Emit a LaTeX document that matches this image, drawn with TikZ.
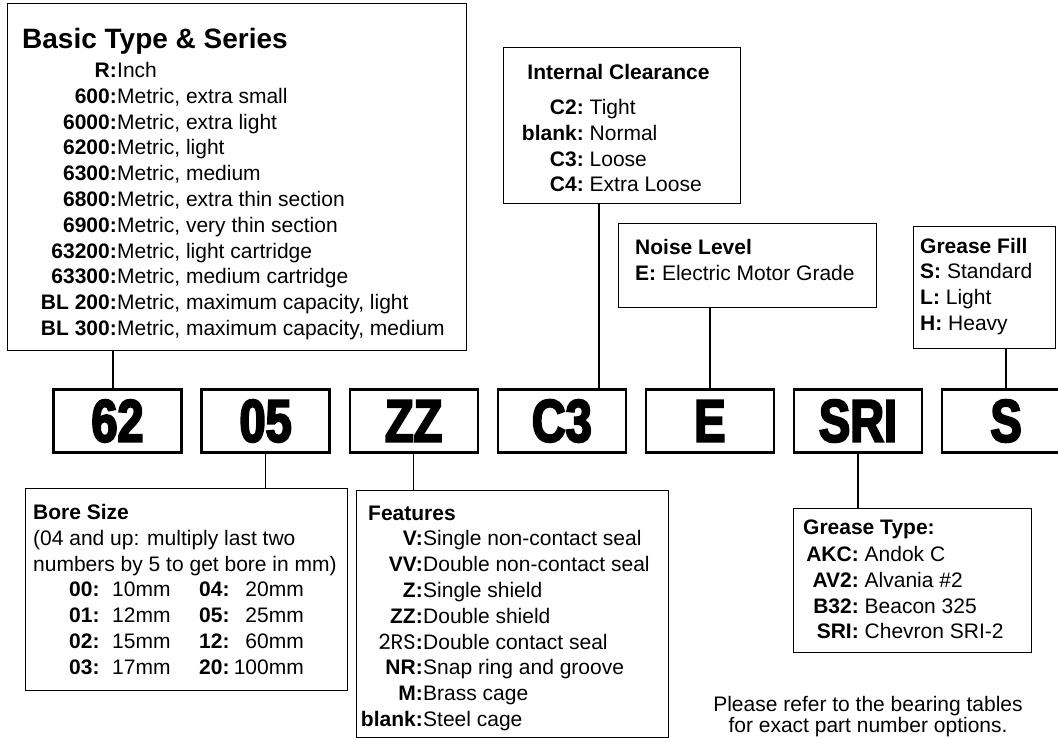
\documentclass[tikz,border=0pt]{standalone}
\usepackage{fontspec}
\setmainfont{Liberation Sans}
\newfontfamily\codefont[FakeStretch=0.78,BoldFeatures={FakeBold=3.5}]{Liberation Sans}
\newfontfamily\rsfont{Poppins}
\usetikzlibrary{positioning}

\newcommand{\txt}{\fontsize{21}{25.8}\selectfont}
\newcommand{\colR}[1]{\begin{tabular}[t]{@{}r@{}}#1\end{tabular}}
\newcommand{\colL}[1]{\begin{tabular}[t]{@{}l@{}}#1\end{tabular}}

\tikzset{
  infobox/.style={draw, line width=1.4pt, anchor=north west, inner sep=0pt},
  codebox/.style={draw, line width=2.4pt, minimum width=128pt, minimum height=63pt,
    inner sep=0pt, font=\codefont\bfseries\fontsize{60}{60}\selectfont},
  keycol/.style={anchor=base east, inner sep=0pt, font=\txt\bfseries},
  desccol/.style={anchor=base west, inner sep=0pt, font=\txt},
  head/.style={anchor=base west, inner sep=0pt, font=\txt\bfseries},
  link/.style={line width=1.4pt},
}

\begin{document}
\begin{tikzpicture}[x=1pt, y=-1pt]
  \useasboundingbox (0,0) rectangle (1058,738);
  \clip (0,0) rectangle (1058,738);

  % the part number
  \node[codebox] (c62) at (117.5,421) {62};
  \node[codebox, right=17.7pt of c62] (c05) {05};
  \node[codebox, right=17.7pt of c05] (cZZ) {ZZ};
  \node[codebox, right=17.7pt of cZZ] (cC3) {C3};
  \node[codebox, right=17.7pt of cC3] (cE) {E};
  \node[codebox, right=17.7pt of cE] (cSRI) {SRI};
  \node[codebox, right=17.7pt of cSRI] (cS) {S};

  % boxes above
  \node[infobox, minimum width=459pt, minimum height=347pt] (basic) at (7,3) {};
  \node[infobox, minimum width=237pt, minimum height=156pt] (ic) at (503,47) {};
  \node[infobox, minimum width=258pt, minimum height=84pt] (noise) at (618,223) {};
  \node[infobox, minimum width=142pt, minimum height=122pt] (fill) at (913,226) {};

  % boxes below
  \node[infobox, minimum width=322pt, minimum height=202pt] (bore) at (25,488) {};
  \node[infobox, minimum width=312pt, minimum height=247pt] (feat) at (356,490) {};
  \node[infobox, minimum width=238pt, minimum height=144pt] (gtype) at (793,508) {};

  % basic type & series
  \node[head, font=\bfseries\fontsize{28}{28}\selectfont] (basichead) at (22,49) {Basic Type \& Series};
  \node[keycol] (basickeys) at (117,77.5) {\colR{R:\\600:\\6000:\\6200:\\6300:\\6800:\\6900:\\63200:\\63300:\\BL 200:\\BL 300:}};
  \node[desccol] (basicdesc) at (117,77.5) {\colL{Inch\\Metric, extra small\\Metric, extra light\\Metric, light\\Metric, medium\\Metric, extra thin section\\Metric, very thin section\\Metric, light cartridge\\Metric, medium cartridge\\Metric, maximum capacity, light\\Metric, maximum capacity, medium}};

  % internal clearance
  \node[head, anchor=base] (ichead) at (618.5,79.5) {Internal Clearance};
  \node[keycol] (ickeys) at (584,114.5) {\colR{C2:\\blank:\\C3:\\C4:}};
  \node[desccol] (icdesc) at (589.5,114.5) {\colL{Tight\\Normal\\Loose\\Extra Loose}};

  % noise level
  \node[head] (noisehead) at (635,254.5) {Noise Level};
  \node[desccol] (noisedesc) at (635,280.5) {\textbf{E:} Electric Motor Grade};

  % grease fill
  \node[head] (fillhead) at (920,253.5) {Grease Fill};
  \node[desccol] (filldesc) at (920,278.5) {\colL{\textbf{S:} Standard\\\textbf{L:} Light\\\textbf{H:} Heavy}};

  % bore size
  \node[head] (borehead) at (33,519.5) {Bore Size};
  \node[desccol] (borenote) at (33,545.3) {\colL{(04 and up: multiply last two\\numbers by 5 to get bore in mm)}};
  \node[head] (borekeysa) at (69,596.9) {\colL{00:\\01:\\02:\\03:}};
  \node[desccol] (borevalsa) at (112,596.9) {\colL{10mm\\12mm\\15mm\\17mm}};
  \node[head] (borekeysb) at (199,596.9) {\colL{04:\\05:\\12:\\20:}};
  \node[desccol, anchor=base east] (borevalsb) at (304,596.9) {\colR{20mm\\25mm\\60mm\\100mm}};

  % features
  \node[head] (feathead) at (368,520.5) {Features};
  \node[keycol] (featkeys) at (423,545.8) {\colR{V:\\VV:\\Z:\\ZZ:\\{\rsfont\mdseries 2RS}:\\NR:\\M:\\blank:}};
  \node[desccol] (featdesc) at (423,545.8) {\colL{Single non-contact seal\\Double non-contact seal\\Single shield\\Double shield\\Double contact seal\\Snap ring and groove\\Brass cage\\Steel cage}};

  % grease type
  \node[head] (gtypehead) at (803,534.5) {Grease Type:};
  \node[keycol] (gtypekeys) at (859,561.5) {\colR{AKC:\\AV2:\\B32:\\SRI:}};
  \node[desccol] (gtypedesc) at (864.5,561.5) {\colL{Andok C\\Alvania \#2\\Beacon 325\\Chevron SRI-2}};

  % note
  \node[desccol, anchor=base, font=\fontsize{21}{20.5}\selectfont] (note) at (868,711.5)
    {\begin{tabular}[t]{@{}c@{}}Please refer to the bearing tables\\for exact part number options.\end{tabular}};

  % connectors
  \coordinate (basicfoot) at ([xshift=-4.5pt]c62.north);
  \coordinate (icfoot) at ([xshift=37pt]cC3.north);
  \draw[link] (basicfoot) -- (basicfoot |- basic.south);
  \draw[link] (icfoot) -- (icfoot |- ic.south);
  \draw[link] (cE.north) -- (cE.north |- noise.south);
  \draw[link] (cS.north) -- (cS.north |- fill.south);
  \draw[link] (c05.south) -- (c05.south |- bore.north);
  \draw[link] (cZZ.south) -- (cZZ.south |- feat.north);
  \draw[link] (cSRI.south) -- (cSRI.south |- gtype.north);
\end{tikzpicture}
\end{document}
